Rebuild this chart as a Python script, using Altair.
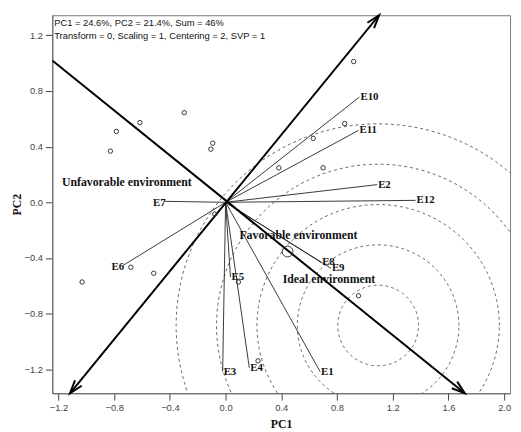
import altair as alt
import pandas as pd
import numpy as np

# ---- data (PC1, PC2 units) ----
env_names = ["E1", "E2", "E3", "E4", "E5", "E6", "E7", "E8", "E9", "E10", "E11", "E12"]
env_x = [0.678, 1.088, -0.021, 0.170, 0.035, -0.735, -0.438, 0.686, 0.756, 0.961, 0.954, 1.364]
env_y = [-1.217, 0.127, -1.217, -1.189, -0.538, -0.453, 0.007, -0.432, -0.474, 0.757, 0.517, 0.014]

gen_x = [-0.827, -0.784, -0.615, -0.297, -0.092, -0.106, 0.919, 0.855, 0.629, 0.382,
         0.700, -1.030, -0.680, -0.516, -0.078, 0.954, 0.233, 0.092]
gen_y = [0.368, 0.510, 0.573, 0.644, 0.425, 0.382, 1.012, 0.566, 0.460, 0.248,
         0.248, -0.573, -0.467, -0.510, -0.085, -0.672, -1.140, -0.573]

# average-environment axis (with arrow at its end) and its perpendicular (arrows both ends)
aea_x = [-1.244, 1.717]
aea_y = [1.019, -1.373]
perp_x = [-1.117, 1.102]
perp_y = [-1.373, 1.345]

ideal_x = [0.445]
ideal_y = [-0.354]

circle_cx = 1.095
circle_cy = -0.886
circle_r = [0.29, 0.58, 0.87, 1.16, 1.45]

region_text = ["Unfavorable environment", "Favorable environment", "Ideal environment"]
region_x = [-1.175, 0.099, 0.410]
region_y = [0.142, -0.234, -0.552]

info_text = ["PC1 = 24.6%, PC2 = 21.4%, Sum = 46%",
             "Transform = 0, Scaling = 1, Centering = 2, SVP = 1"]
info_x = [-1.23, -1.23]
info_y = [1.292, 1.193]

x_ticks = [-1.2, -0.8, -0.4, 0.0, 0.4, 0.8, 1.2, 1.6, 2.0]
y_ticks = [-1.2, -0.8, -0.4, 0.0, 0.4, 0.8, 1.2]
x_dom = [-1.244, 2.042]
y_dom = [-1.373, 1.345]

# ---- tables ----
env_df = pd.DataFrame({"env": env_names, "x": env_x, "y": env_y,
                       "x0": 0.0, "y0": 0.0})
env_df["side"] = np.where(env_df["x"] < -0.3, "left", "right")
gen_df = pd.DataFrame({"x": gen_x, "y": gen_y})
ideal_df = pd.DataFrame({"x": ideal_x, "y": ideal_y})
axes_df = pd.DataFrame({"x": [aea_x[0], perp_x[0]], "y": [aea_y[0], perp_y[0]],
                        "x2": [aea_x[1], perp_x[1]], "y2": [aea_y[1], perp_y[1]]})

def heading(x_from, y_from, x_to, y_to):
    a = np.degrees(np.arctan2(x_to - x_from, y_to - y_from))
    return float(a % 360)

arrow_df = pd.DataFrame({
    "x": [aea_x[1], perp_x[1], perp_x[0]],
    "y": [aea_y[1], perp_y[1], perp_y[0]],
    "ang": [heading(aea_x[0], aea_y[0], aea_x[1], aea_y[1]),
            heading(perp_x[0], perp_y[0], perp_x[1], perp_y[1]),
            heading(perp_x[1], perp_y[1], perp_x[0], perp_y[0])],
})

t = np.linspace(0, 2 * np.pi, 241)
circ_rows = []
for r in circle_r:
    for i, a in enumerate(t):
        circ_rows.append({"r": r, "i": i,
                          "x": circle_cx + r * np.cos(a),
                          "y": circle_cy + r * np.sin(a)})
circ_df = pd.DataFrame(circ_rows)

region_df = pd.DataFrame({"label": region_text, "x": region_x, "y": region_y})
info_df = pd.DataFrame({"label": info_text, "x": info_x, "y": info_y})

# ---- scales ----
xs = alt.Scale(domain=x_dom, nice=False, zero=False)
ys = alt.Scale(domain=y_dom, nice=False, zero=False)
X = alt.X("x:Q", scale=xs, title="PC1",
          axis=alt.Axis(values=x_ticks, format=".1f", grid=False))
Y = alt.Y("y:Q", scale=ys, title="PC2",
          axis=alt.Axis(values=y_ticks, format=".1f", grid=False))

circles = alt.Chart(circ_df).mark_line(
    clip=True, color="#555555", strokeWidth=0.9, strokeDash=[3, 3]
).encode(x=X, y=Y, detail="r:N", order="i:Q")

vectors = alt.Chart(env_df).mark_rule(
    clip=True, color="#222222", strokeWidth=0.9
).encode(x=X, y=Y, x2="x0:Q", y2="y0:Q")

axes_lines = alt.Chart(axes_df).mark_rule(
    clip=True, color="black", strokeWidth=2
).encode(x=X, y=Y, x2="x2:Q", y2="y2:Q")

chevron = "M -0.55 1.7 L 0 0 L 0.55 1.7"
arrows = alt.Chart(arrow_df).mark_point(
    shape=chevron, filled=False, color="black", strokeWidth=2, size=250, opacity=1
).encode(x=X, y=Y, angle=alt.Angle("ang:Q", scale=None))

gens = alt.Chart(gen_df).mark_point(
    shape="circle", filled=False, color="#333333", strokeWidth=1, size=20, opacity=1
).encode(x=X, y=Y)

ideal = alt.Chart(ideal_df).mark_point(
    shape="circle", filled=False, color="#333333", strokeWidth=1, size=120, opacity=1
).encode(x=X, y=Y)

env_right = alt.Chart(env_df[env_df["side"] == "right"]).mark_text(
    align="left", baseline="middle", font="Liberation Serif", fontWeight="bold",
    fontSize=11, color="#111111", dx=1
).encode(x=X, y=Y, text="env:N")

env_left = alt.Chart(env_df[env_df["side"] == "left"]).mark_text(
    align="right", baseline="middle", font="Liberation Serif", fontWeight="bold",
    fontSize=11, color="#111111", dx=1, dy=2
).encode(x=X, y=Y, text="env:N")

regions = alt.Chart(region_df).mark_text(
    align="left", baseline="middle", font="Liberation Serif", fontWeight="bold",
    fontSize=12, color="#111111"
).encode(x=X, y=Y, text="label:N")

info = alt.Chart(info_df).mark_text(
    align="left", baseline="middle", font="Liberation Sans",
    fontSize=9.5, color="#111111"
).encode(x=X, y=Y, text="label:N")

chart = alt.layer(
    circles, vectors, axes_lines, arrows, gens, ideal, env_right, env_left, regions, info
).properties(
    width=465, height=384,
    autosize=alt.AutoSizeParams(type="none"),
    padding={"left": 45, "top": 4, "right": 3, "bottom": 36},
).configure_view(
    stroke="#777777", strokeWidth=1
).configure_axis(
    labelFont="Liberation Sans", labelFontSize=9.5, labelColor="#444444",
    tickColor="#444444", tickSize=7, domainColor="#666666",
    titleFont="Liberation Serif", titleFontWeight="bold", titleFontSize=12,
    titleColor="#111111", labelPadding=3
).configure_axisX(
    titlePadding=6
).configure_axisY(
    titlePadding=1
)

chart.save("out.html", embed_options={"renderer": "svg", "actions": False})
